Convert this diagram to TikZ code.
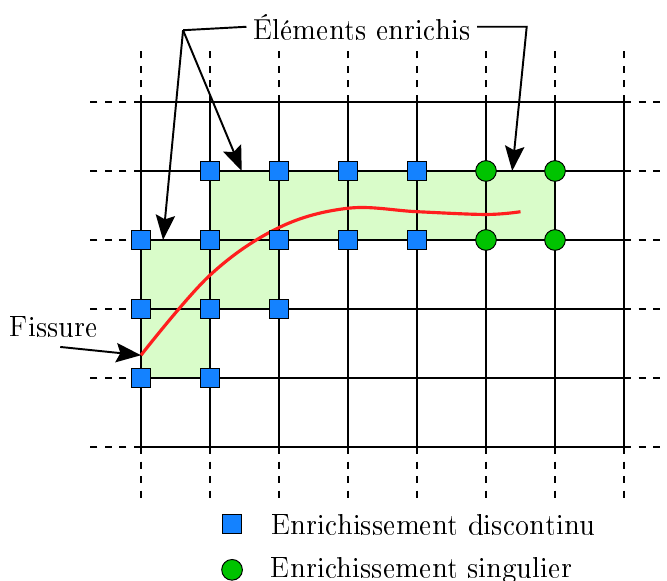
\documentclass[tikz,border=0pt]{standalone}
\usepackage[T1]{fontenc}
\usepackage{tikz}
\usetikzlibrary{arrows.meta, positioning, calc}
\definecolor{cBlue}{RGB}{20,130,255}
\definecolor{cGreen}{RGB}{0,195,0}
\definecolor{cFill}{RGB}{217,252,201}
\definecolor{cCrack}{RGB}{255,30,30}
\tikzset{
	gridln/.style   ={semithick, black},
	gridext/.style  ={semithick, dashed, black},
	elem/.style     ={fill=cFill, draw=none},
	discnode/.style ={rectangle, draw=black, fill=cBlue, minimum size=0.27cm, inner sep=0pt},
	singnode/.style ={circle, draw=black, fill=cGreen, minimum size=0.3cm, inner sep=0pt},
	crack/.style    ={line width=1.3pt, cCrack},
	annarrow/.style ={-{Stealth[length=3.6mm, width=2.8mm, inset=0.6mm]}, thick},
}

\begin{document}
\begin{tikzpicture}[font=\large, node distance=0.3cm]
	\useasboundingbox (-2.043,-1.928) rectangle (7.623,6.478);
	% enriched elements
	\fill[elem] (1,3) rectangle (6,4);
	\fill[elem] (0,2) rectangle (2,3);
	\fill[elem] (0,1) rectangle (1,2);
	% mesh
	\foreach \i in {0,...,7} {
		\draw[gridln] (\i,0) -- (\i,5);
		\draw[gridext] (\i,5) -- (\i,5.75);
		\draw[gridext] (\i,0) -- (\i,-0.75);
	}
	\foreach \j in {0,...,5} {
		\draw[gridln] (0,\j) -- (7,\j);
		\draw[gridext] (0,\j) -- (-0.75,\j);
		\draw[gridext] (7,\j) -- (7.75,\j);
	}
	% crack
	\coordinate (tip1) at (0,1.33);
	\draw[crack] plot[smooth, tension=0.6] coordinates {(tip1) (1,2.49) (2,3.18) (3,3.46) (4,3.41) (5,3.37) (5.5,3.41)};
	% enriched nodes
	\foreach \p in {(1,4),(2,4),(3,4),(4,4),(0,3),(1,3),(2,3),(3,3),(4,3),(0,2),(1,2),(2,2),(0,1),(1,1)}
		\node[discnode] at \p {};
	\foreach \p in {(5,4),(6,4),(5,3),(6,3)}
		\node[singnode] at \p {};
	% labels
	\node[inner sep=2.5pt] (lbl) at (3.2,6.09) {Éléments enrichis};
	\coordinate (knee) at (0.61,6.04);
	\coordinate (knee2) at (5.59,6.09);
	\coordinate (e1) at (0.32,3.0);
	\coordinate (e2) at (1.46,4.0);
	\coordinate (e3) at (5.38,4.0);
	\draw[thick] (lbl.west) -- (knee);
	\draw[annarrow] (knee) -- (e1);
	\draw[annarrow] (knee) -- (e2);
	\draw[annarrow] (lbl.east) -- (knee2) -- (e3);
	\node (fis) at (-1.26,1.74) {Fissure};
	\coordinate (fisst) at (-1.17,1.45);
	\draw[annarrow] (fisst) -- (tip1);
	% legend
	\node[discnode] (lgsq) at (1.32,-1.12) {};
	\node[right=0.3cm of lgsq] (lgsqt) {Enrichissement discontinu};
	\node[singnode] (lgci) at (1.32,-1.78) {};
	\node[right=0.28cm of lgci] (lgcit) {Enrichissement singulier};
\end{tikzpicture}
\end{document}
